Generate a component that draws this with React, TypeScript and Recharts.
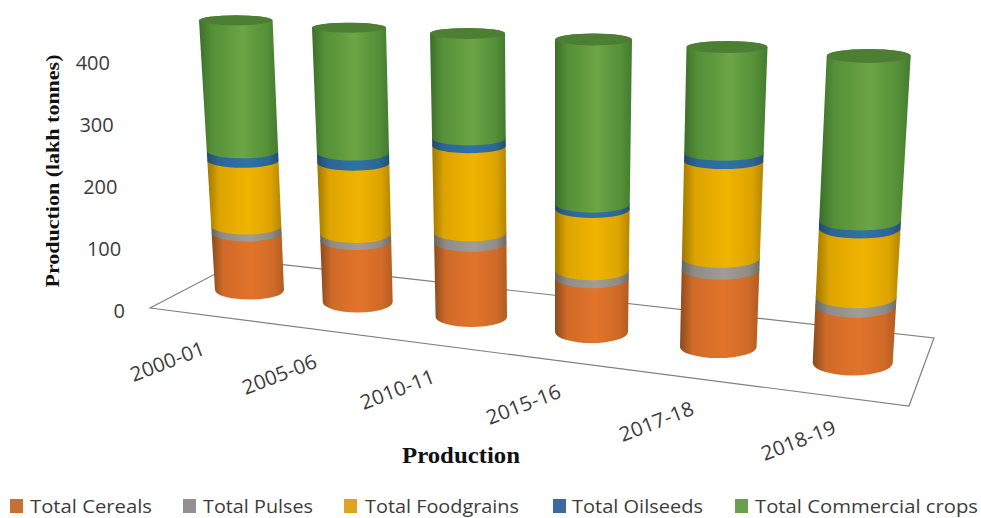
import React from "react";
import { ComposedChart, Bar, XAxis, YAxis, Legend, Label, Customized } from "recharts";

// ---------- data (lakh tonnes) ----------
const categories = ["2000-01", "2005-06", "2010-11", "2015-16", "2017-18", "2018-19"];
const totalCereals = [92, 98, 116, 82, 112, 79];
const totalPulses = [11, 11, 16, 12, 17, 13];
const totalFoodgrains = [106, 113, 136, 93, 141, 95];
const totalOilseeds = [15, 16, 12, 8, 12, 11];
const totalCommercialCrops = [211, 200, 164, 250, 154, 229];
const yTicks = [0, 100, 200, 300, 400];

const rows = categories.map((category, i) => ({
  category,
  cereals: totalCereals[i],
  pulses: totalPulses[i],
  foodgrains: totalFoodgrains[i],
  oilseeds: totalOilseeds[i],
  commercial: totalCommercialCrops[i],
}));

// ---------- layout and 3D projection ----------
const W = 981;
const H = 518;
const AXIS_BASE = 311;
const AXIS_TOP = 32;
const PX_PER_UNIT = (AXIS_BASE - AXIS_TOP) / 450;
const FONT = "'Open Sans', sans-serif";

// per-category perspective: floor centre, growth, lean, taper, ellipse opening
const floorY = [290, 302, 317, 332, 347, 363];
const growth = [1, 1.01, 1.03, 1.06, 1.11, 1.16];
const baseCx = [249.5, 357.7, 471.3, 591.5, 718.3, 852.7];
const topCx = [235.8, 349, 467.5, 593.5, 727, 868.7];
const baseHw = [34.5, 35, 35.7, 36.5, 38.3, 40];
const topHw = [36.8, 37, 37.5, 38.5, 40.5, 42];
const baseRy = [9.5, 10.5, 10, 11, 11, 12.5];
const topRy = [5, 5, 5.5, 6, 6, 7];
const tickAt = [
  [170, 368],
  [282, 381],
  [400, 396],
  [526, 411],
  [659, 428],
  [801, 447],
];

const seriesDefs = [
  { key: "cereals", name: "Total Cereals", id: "gCereals", stops: ["#8a4a1e", "#d06a28", "#e2742a", "#b25c20"], legend: "#c8702f", lx: 10, tx: 30, tw: 122 },
  { key: "pulses", name: "Total Pulses", id: "gPulses", stops: ["#66645f", "#8f8c86", "#a09c96", "#6e6c68"], legend: "#938f92", lx: 183, tx: 203, tw: 110 },
  { key: "foodgrains", name: "Total Foodgrains", id: "gFood", stops: ["#a07800", "#dca400", "#f0b400", "#b58600"], legend: "#dda520", lx: 344, tx: 365, tw: 154 },
  { key: "oilseeds", name: "Total Oilseeds", id: "gOil", stops: ["#214a6c", "#2b6695", "#2f72a6", "#244f75"], legend: "#3a6aa0", lx: 553, tx: 572, tw: 131 },
  { key: "commercial", name: "Total Commercial crops", id: "gComm", stops: ["#3b6f29", "#558f38", "#6ba544", "#437c2e"], legend: "#68a04c", lx: 735, tx: 755, tw: 223 },
];

const totals = categories.map(
  (_, i) =>
    totalCereals[i] + totalPulses[i] + totalFoodgrains[i] + totalOilseeds[i] + totalCommercialCrops[i]
);

function project(i: number, band: number, yPx: number) {
  const u = AXIS_BASE - yPx;
  const t = u / (totals[i] * PX_PER_UNIT);
  const lerp = (a: number, b: number) => a + (b - a) * t;
  // the category scale gives the band; the projection bends it onto the tilted floor
  const bandCentre = 190 + 120 * (i + 0.5);
  const shift = band - bandCentre;
  return {
    cx: lerp(baseCx[i], topCx[i]) + shift,
    hw: lerp(baseHw[i], topHw[i]),
    ry: lerp(baseRy[i], topRy[i]),
    y: floorY[i] - u * growth[i],
  };
}

function Cylinder(props: any) {
  const { x, y, width, height, index, seriesIndex } = props;
  const band = x + width / 2;
  const a = project(index, band, y + height);
  const b = project(index, band, y);
  const def = seriesDefs[seriesIndex];
  const d =
    `M${b.cx - b.hw},${b.y} L${a.cx - a.hw},${a.y} ` +
    `A${a.hw},${a.ry} 0 0 0 ${a.cx + a.hw},${a.y} ` +
    `L${b.cx + b.hw},${b.y} A${b.hw},${b.ry} 0 0 0 ${b.cx - b.hw},${b.y} Z`;
  return (
    <g>
      <path d={d} fill={`url(#${def.id})`} />
      {seriesIndex === seriesDefs.length - 1 && (
        <ellipse cx={b.cx} cy={b.y} rx={b.hw} ry={b.ry} fill="#4c7f33" />
      )}
    </g>
  );
}

const XTick = (props: any) => {
  const { index, payload } = props;
  const [px, py] = tickAt[index];
  return (
    <text
      x={px}
      y={py}
      transform={`rotate(-21 ${px} ${py})`}
      textAnchor="middle"
      fontFamily={FONT}
      fontSize={20}
      fill="#3c3c3c"
      textLength={78}
      lengthAdjust="spacingAndGlyphs"
    >
      {payload.value}
    </text>
  );
};

const YTick = (props: any) => {
  const { y, payload } = props;
  const right = 125 - (payload.value / 400) * 15;
  return (
    <text x={right} y={y + 7} textAnchor="end" fontFamily={FONT} fontSize={20} fill="#3c3c3c">
      {payload.value}
    </text>
  );
};

const Floor = () => (
  <g fill="none" stroke="#808080" strokeWidth={1.2}>
    <polygon points="150,308 242,260 934,338 909,406" />
  </g>
);

const YTitle = () => (
  <text
    x={59}
    y={171}
    transform="rotate(-90 59 171)"
    textAnchor="middle"
    fontFamily="'Liberation Serif', serif"
    fontWeight="bold"
    fontSize={18}
    fill="#111"
    textLength={233}
    lengthAdjust="spacingAndGlyphs"
  >
    Production (lakh tonnes)
  </text>
);

const XTitle = () => (
  <text
    x={461}
    y={463}
    textAnchor="middle"
    fontFamily="'Liberation Serif', serif"
    fontWeight="bold"
    fontSize={23}
    fill="#111"
    textLength={118}
    lengthAdjust="spacingAndGlyphs"
  >
    Production
  </text>
);

const LegendContent = () => (
  <svg width={W} height={H} style={{ position: "absolute", left: 0, top: 0, overflow: "visible", pointerEvents: "none" }}>
    {seriesDefs.map((s) => (
      <g key={s.key}>
        <rect x={s.lx} y={499} width={13} height={14} fill={s.legend} />
        <text
          x={s.tx}
          y={512.5}
          fontFamily={FONT}
          fontSize={19}
          fill="#3c3c3c"
          textLength={s.tw}
          lengthAdjust="spacingAndGlyphs"
        >
          {s.name}
        </text>
      </g>
    ))}
  </svg>
);

export default function App() {
  return (
    <div style={{ position: "absolute", left: 0, top: 0, width: W, height: H, background: "#fff" }}>
      <ComposedChart
        width={W}
        height={H}
        data={rows}
        margin={{ top: AXIS_TOP, right: W - 910, bottom: H - AXIS_BASE - 30, left: 130 }}
        barCategoryGap="40%"
      >
        <defs>
          {seriesDefs.map((s) => (
            <linearGradient key={s.id} id={s.id} x1="0" y1="0" x2="1" y2="0">
              <stop offset="0%" stopColor={s.stops[0]} />
              <stop offset="16%" stopColor={s.stops[1]} />
              <stop offset="55%" stopColor={s.stops[2]} />
              <stop offset="86%" stopColor={s.stops[1]} />
              <stop offset="100%" stopColor={s.stops[3]} />
            </linearGradient>
          ))}
        </defs>
        <Customized component={Floor} />
        <XAxis dataKey="category" axisLine={false} tickLine={false} height={30} tick={<XTick />} interval={0}>
          <Label content={<XTitle />} />
        </XAxis>
        <YAxis
          width={60}
          domain={[0, 450]}
          ticks={yTicks}
          axisLine={false}
          tickLine={false}
          tick={<YTick />}
          interval={0}
        >
          <Label content={<YTitle />} />
        </YAxis>
        {seriesDefs.map((s, si) => (
          <Bar
            key={s.key}
            dataKey={s.key}
            name={s.name}
            stackId="production"
            fill={s.legend}
            isAnimationActive={false}
            shape={(p: any) => <Cylinder {...p} seriesIndex={si} />}
          />
        ))}
        <Legend
          content={<LegendContent />}
          wrapperStyle={{ position: "absolute", left: 0, top: 0, width: 0, height: 0 }}
        />
      </ComposedChart>
    </div>
  );
}
